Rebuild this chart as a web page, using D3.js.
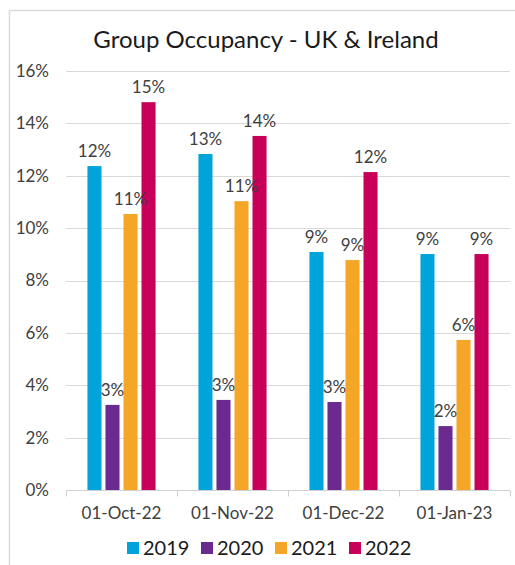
<!DOCTYPE html>
<html>
<head>
<meta charset="utf-8">
<script src="https://cdn.jsdelivr.net/npm/d3@7"></script>
<style>
  body { margin: 0; background: #fff; }
  svg { display: block; font-family: Lato, "Open Sans", sans-serif; }
</style>
</head>
<body>
<script>
const categories = ["01-Oct-22", "01-Nov-22", "01-Dec-22", "01-Jan-23"]
const seriesNames = ["2019", "2020", "2021", "2022"]
const seriesColors = ["#00A3DA", "#6B2A90", "#F5A627", "#C8005A"]
const values2019 = [12.37, 12.83, 9.09, 9.01]
const values2020 = [3.25, 3.44, 3.36, 2.44]
const values2021 = [10.54, 11.03, 8.78, 5.73]
const values2022 = [14.81, 13.52, 12.14, 9.01]
const yTicks = [0, 2, 4, 6, 8, 10, 12, 14, 16]

const seriesValues = [values2019, values2020, values2021, values2022]
const data = categories.map((cat, i) => ({
    cat,
    vals: seriesNames.map((s, j) => ({ s, j, v: seriesValues[j][i] }))
}))

const width = 515
const height = 565
const marginLeft = 66
const marginRight = 5
const marginTop = 71
const marginBottom = 75

const svg = d3.select("body").append("svg")
    .attr("width", width)
    .attr("height", height)

// chart frame (only top and left edges visible in the crop)
svg.append("path")
    .attr("d", `M9.5,${height} V10.5 H${width}`)
    .attr("fill", "none")
    .attr("stroke", "#d9d9d9")
    .attr("stroke-width", 1.5)

svg.append("text")
    .attr("x", 266)
    .attr("y", 48)
    .attr("text-anchor", "middle")
    .attr("fill", "#1a1a1a")
    .style("font-size", "24px")
    .text("Group Occupancy - UK & Ireland")

const x0 = d3.scaleBand()
    .domain(categories)
    .range([marginLeft, width - marginRight])
    .paddingInner(0.315)
    .paddingOuter(0.1575)

const x1 = d3.scaleBand()
    .domain(seriesNames)
    .range([0, x0.bandwidth()])
    .padding(0.22)

const y = d3.scaleLinear([0, 16], [height - marginBottom, marginTop])

// grid
svg.append("g")
    .selectAll("line")
    .data(yTicks.slice(1))
    .join("line")
    .attr("x1", marginLeft)
    .attr("x2", width - marginRight)
    .attr("y1", d => Math.round(y(d)) + 0.5)
    .attr("y2", d => Math.round(y(d)) + 0.5)
    .attr("stroke", "#d9d9d9")

// y tick labels
svg.append("g")
    .selectAll("text")
    .data(yTicks)
    .join("text")
    .attr("x", 49)
    .attr("y", d => y(d))
    .attr("dy", "0.35em")
    .attr("text-anchor", "end")
    .attr("fill", "#404040")
    .style("font-size", "17px")
    .text(d => d + "%")

// x axis
const xAxis = svg.append("g")
    .attr("transform", `translate(0,${Math.round(y(0)) + 0.5})`)
xAxis.append("line")
    .attr("x1", marginLeft).attr("x2", width - marginRight)
    .attr("stroke", "#d0d0d0")
const sepPositions = categories.map(c => x0(c) - x0.step() * x0.paddingInner() / 2)
sepPositions.push(width - marginRight)
xAxis.selectAll(".sep")
    .data(sepPositions)
    .join("line")
    .attr("x1", d => Math.round(d) + 0.5)
    .attr("x2", d => Math.round(d) + 0.5)
    .attr("y2", 6)
    .attr("stroke", "#d0d0d0")
xAxis.selectAll(".cat")
    .data(categories)
    .join("text")
    .attr("x", d => x0(d) + x0.bandwidth() / 2)
    .attr("y", 23)
    .attr("dy", "0.35em")
    .attr("text-anchor", "middle")
    .attr("fill", "#404040")
    .style("font-size", "17px")
    .text(d => d)

// bars
const groups = svg.append("g")
    .selectAll("g")
    .data(data)
    .join("g")
    .attr("transform", d => `translate(${x0(d.cat)},0)`)

groups.selectAll("rect")
    .data(d => d.vals)
    .join("rect")
    .attr("x", d => x1(d.s))
    .attr("width", x1.bandwidth())
    .attr("y", d => y(d.v))
    .attr("height", d => y(0) - y(d.v))
    .attr("fill", d => seriesColors[d.j])

groups.selectAll("text")
    .data(d => d.vals)
    .join("text")
    .attr("x", d => x1(d.s) + x1.bandwidth() / 2)
    .attr("y", d => y(d.v) - 9)
    .attr("text-anchor", "middle")
    .attr("fill", "#404040")
    .style("font-size", "17px")
    .text(d => d3.format(".0f")(d.v) + "%")

// legend
const legend = svg.append("g")
    .attr("transform", "translate(127,548)")
const item = legend.selectAll("g")
    .data(seriesNames)
    .join("g")
    .attr("transform", (d, i) => `translate(${i * 74},0)`)
item.append("rect")
    .attr("y", -6)
    .attr("width", 12)
    .attr("height", 12)
    .attr("fill", (d, i) => seriesColors[i])
item.append("text")
    .attr("x", 16)
    .attr("dy", "0.35em")
    .attr("fill", "#1a1a1a")
    .style("font-size", "20px")
    .text(d => d)
</script>
</body>
</html>
